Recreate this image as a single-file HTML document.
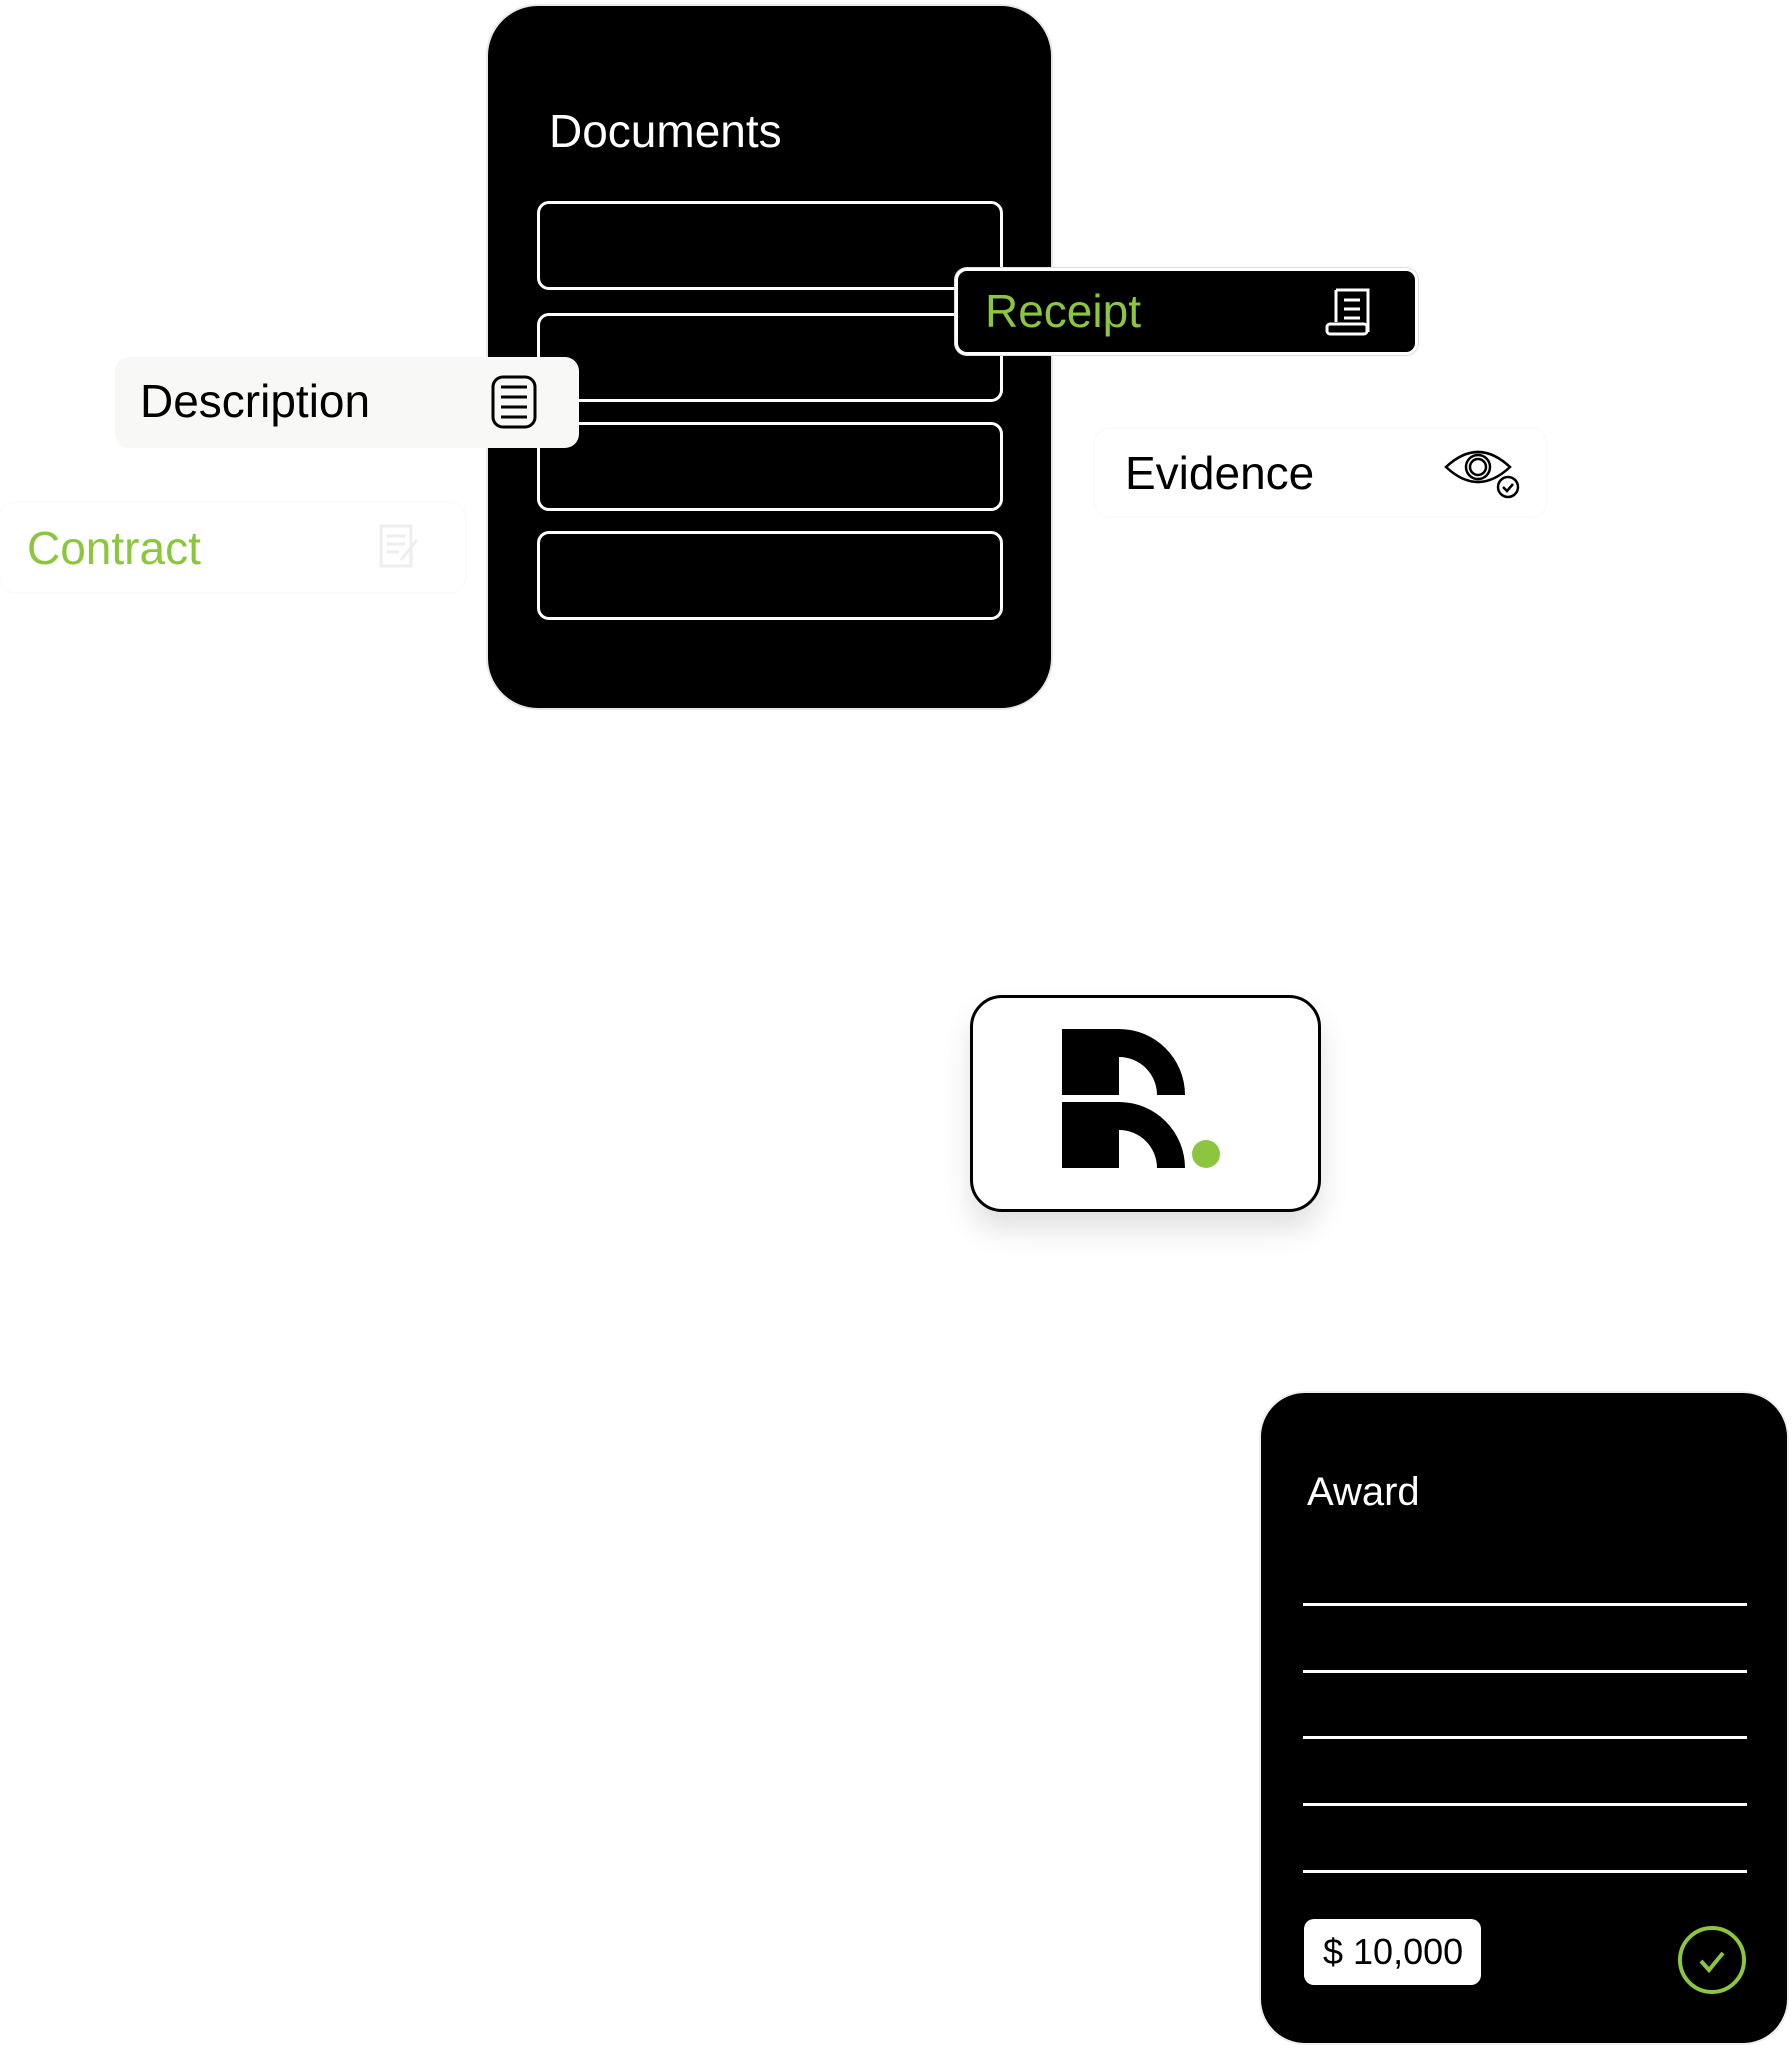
<!DOCTYPE html>
<html><head><meta charset="utf-8"><style>
html,body{margin:0;padding:0;width:1792px;height:2048px;background:#fff;overflow:hidden;position:relative;font-family:"Liberation Sans",Arial,sans-serif}
.a{position:absolute;box-sizing:border-box}
.doc{left:486px;top:4px;width:567px;height:706px;background:#000;border-radius:52px;border:2px solid #e8e8e8}
.box{left:537px;width:466px;height:89px;border:3px solid #fff;border-radius:12px}
.t{position:absolute;white-space:nowrap}
</style></head><body>
<div class="a doc"></div>
<div class="t" style="left:549px;top:104px;font-size:46px;color:#fff">Documents</div>
<div class="a box" style="top:201px"></div>
<div class="a box" style="top:313px"></div>
<div class="a box" style="top:422px"></div>
<div class="a box" style="top:531px"></div>

<div class="a" style="left:955px;top:268px;width:463px;height:87px;background:#000;border:3px solid #fff;border-radius:12px;box-shadow:0 0 0 1px #ddd"></div>
<div class="t" style="left:985px;top:284px;font-size:46px;color:#8cc63f">Receipt</div>
<svg class="a" style="left:1324px;top:282px" width="60" height="60" viewBox="0 0 60 60" fill="none" stroke="#fff" stroke-width="3"><path d="M12 8h32v42"/><path d="M12 8v32"/><path d="M20 18h16M20 27h16M20 36h16"/><rect x="3" y="42" width="40" height="10" rx="3"/></svg>

<div class="a" style="left:115px;top:357px;width:464px;height:91px;background:#f8f8f6;border-radius:14px"></div>
<div class="t" style="left:140px;top:374px;font-size:46px;color:#000">Description</div>
<svg class="a" style="left:489px;top:374px" width="50" height="56" viewBox="0 0 50 56" fill="none" stroke="#000" stroke-width="3"><rect x="4" y="3" width="42" height="50" rx="10"/><path d="M12 13h26M12 23h26M12 33h26M12 43h26"/></svg>

<div class="a" style="left:1095px;top:429px;width:451px;height:87px;background:#fff;border-radius:14px;box-shadow:0 0 3px rgba(0,0,0,0.06)"></div>
<div class="t" style="left:1125px;top:446px;font-size:46px;color:#000">Evidence</div>
<svg class="a" style="left:1440px;top:443px" width="84" height="60" viewBox="0 0 84 60" fill="none" stroke="#000" stroke-width="2.5"><path d="M6 24Q38 -6 70 24Q38 54 6 24Z"/><circle cx="38" cy="24" r="12"/><circle cx="38" cy="24" r="8"/><circle cx="68" cy="44" r="10" fill="#fff"/><path d="M63 44l4 4 6-7"/></svg>

<div class="a" style="left:0;top:503px;width:465px;height:89px;background:#fff;border-radius:14px;box-shadow:0 0 3px rgba(0,0,0,0.06)"></div>
<div class="t" style="left:27px;top:521px;font-size:46px;color:#8cc63f">Contract</div>
<svg class="a" style="left:375px;top:520px" width="50" height="56" viewBox="0 0 50 56" fill="none" stroke="#eee" stroke-width="3"><path d="M6 6h30v40H6z"/><path d="M12 16h18M12 24h18M12 32h12M26 40l16-20"/></svg>

<div class="a" style="left:970px;top:995px;width:351px;height:217px;background:#fff;border:3px solid #000;border-radius:32px;box-shadow:0 18px 30px rgba(0,0,0,0.12)"></div>
<svg class="a" style="left:0;top:0" width="1792" height="2048">
<path d="M1062 1029H1119A66 66 0 0 1 1185 1095H1157A38 38 0 0 0 1119 1057V1095H1062Z" fill="#000"/>
<path d="M1062 1102H1119A66 66 0 0 1 1185 1168H1157A38 38 0 0 0 1119 1130V1168H1062Z" fill="#000"/>
<circle cx="1206" cy="1154" r="14" fill="#8cc63f"/>
</svg>

<div class="a" style="left:1259px;top:1391px;width:530px;height:654px;background:#000;border-radius:46px;border:2px solid #eee"></div>
<div class="t" style="left:1307px;top:1470px;font-size:40px;color:#fff">Award</div>
<div class="a" style="left:1303px;top:1603px;width:444px;height:3px;background:#fff"></div>
<div class="a" style="left:1303px;top:1670px;width:444px;height:3px;background:#fff"></div>
<div class="a" style="left:1303px;top:1736px;width:444px;height:3px;background:#fff"></div>
<div class="a" style="left:1303px;top:1803px;width:444px;height:3px;background:#fff"></div>
<div class="a" style="left:1303px;top:1870px;width:444px;height:3px;background:#fff"></div>
<div class="a" style="left:1304px;top:1919px;width:177px;height:66px;background:#fff;border-radius:10px"></div>
<div class="t" style="left:1323px;top:1931px;font-size:36px;color:#000">$ 10,000</div>
<svg class="a" style="left:1676px;top:1924px" width="72" height="72" viewBox="0 0 72 72" fill="none" stroke="#8cc63f" stroke-width="4"><circle cx="36" cy="36" r="32"/><path d="M25 37l8 9 14-17"/></svg>
</body></html>
